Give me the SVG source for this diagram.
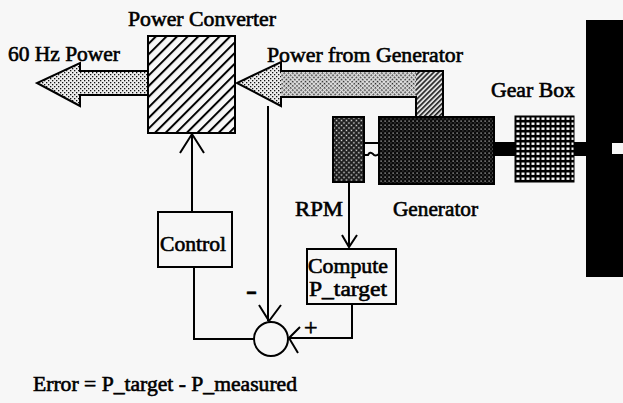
<svg xmlns="http://www.w3.org/2000/svg" width="623" height="403" viewBox="0 0 623 403">
<style>
text{font-family:"Liberation Serif","Times New Roman",serif;font-size:21px;fill:#000;stroke:#000;stroke-width:0.6}
.ln{fill:none;stroke:#000;stroke-width:2}
.box{fill:#f7f7f7;stroke:#000;stroke-width:2}
.ol{stroke:#000;stroke-width:2}
</style>
<defs>
<pattern id="stip" width="4" height="4" patternUnits="userSpaceOnUse">
<rect width="4" height="4" fill="#eeeeee"/><rect x="0" y="0" width="1.3" height="1.3" fill="#111"/><rect x="2" y="2" width="1.3" height="1.3" fill="#111"/>
</pattern>
<pattern id="stip2" width="3" height="3" patternUnits="userSpaceOnUse" patternTransform="rotate(45)">
<rect width="3" height="3" fill="#e0e0e0"/><rect x="0" y="0" width="1.5" height="1.5" fill="#222"/>
</pattern>
<pattern id="hatch" width="7.5" height="7.5" patternUnits="userSpaceOnUse" patternTransform="rotate(45)">
<rect width="7.5" height="7.5" fill="#f7f7f7"/><rect x="0" y="0" width="2" height="7.5" fill="#000"/>
</pattern>
<pattern id="hatch2" width="3.5" height="3.5" patternUnits="userSpaceOnUse" patternTransform="rotate(45)">
<rect width="3.5" height="3.5" fill="#ddd"/><rect x="0" y="0" width="1.6" height="3.5" fill="#222"/>
</pattern>
<pattern id="gen" width="4" height="4" patternUnits="userSpaceOnUse">
<rect width="4" height="4" fill="#0a0a0a"/><rect x="0.5" y="0.5" width="1.2" height="1.2" fill="#ccc"/><rect x="2.5" y="2.5" width="0.9" height="0.9" fill="#888"/>
</pattern>
<pattern id="sens" width="3.5" height="3.5" patternUnits="userSpaceOnUse" patternTransform="rotate(45)">
<rect width="3.5" height="3.5" fill="#1a1a1a"/><rect x="0.5" y="0.5" width="1.5" height="1.5" fill="#e0e0e0"/>
</pattern>
<pattern id="grid" width="5" height="5" patternUnits="userSpaceOnUse" x="515" y="116">
<rect width="5" height="5" fill="#000"/><rect x="1.5" y="1.5" width="3" height="2.4" fill="#fafafa"/>
</pattern>
</defs>
<rect width="623" height="403" fill="#f7f7f7"/>

<g id="power-converter">
<rect x="148" y="36" width="87" height="97" fill="url(#hatch)" class="ol"/>
<text x="128" y="26" textLength="148" lengthAdjust="spacingAndGlyphs">Power Converter</text>
</g>

<g id="power-60hz">
<path d="M148,71 H80 V63 L37,83 L80,106 V95 H148 Z" fill="url(#stip)" class="ol"/>
<text x="8" y="61" textLength="112" lengthAdjust="spacingAndGlyphs">60 Hz Power</text>
</g>

<g id="power-from-generator">
<rect x="281" y="71" width="162" height="26" fill="url(#stip2)"/>
<rect x="416" y="71" width="27" height="46" fill="url(#hatch2)"/>
<path d="M237,83 L281,62 V106 Z" fill="url(#stip)"/>
<path d="M416,117 V97 H281 V106 L237,83 L281,62 V71 H443 V117" fill="none" class="ol"/>
<text x="267" y="62" textLength="196" lengthAdjust="spacingAndGlyphs">Power from Generator</text>
</g>

<g id="rpm-sensor">
<rect x="333" y="117" width="31" height="65" fill="url(#sens)" class="ol"/>
<path d="M364,143 H379 M364,155 H368 Q370,151 373,154 Q375,157 379,154" class="ln" stroke-width="1.6"/>
<text x="295" y="216" textLength="48" lengthAdjust="spacingAndGlyphs">RPM</text>
</g>

<g id="generator">
<rect x="379" y="117" width="115" height="67" fill="url(#gen)" class="ol"/>
<text x="393" y="216" textLength="85" lengthAdjust="spacingAndGlyphs">Generator</text>
</g>

<g id="shafts">
<rect x="494" y="142" width="21" height="14" fill="#000"/>
<rect x="574" y="142" width="13" height="14" fill="#000"/>
</g>

<g id="gear-box">
<rect x="515" y="116" width="59" height="66" fill="url(#grid)" stroke="#000" stroke-width="1"/>
<text x="491" y="97" textLength="84" lengthAdjust="spacingAndGlyphs">Gear Box</text>
</g>

<g id="rotor">
<rect x="586" y="20" width="37" height="257" fill="#000"/>
<rect x="612" y="143" width="11" height="11" fill="#f7f7f7"/>
</g>

<g id="control">
<rect x="158" y="212" width="74" height="55" class="box"/>
<text x="160" y="251" textLength="66" lengthAdjust="spacingAndGlyphs">Control</text>
</g>

<g id="compute">
<rect x="307" y="249" width="89" height="55" class="box"/>
<text x="308" y="273" textLength="80" lengthAdjust="spacingAndGlyphs">Compute</text>
<text x="309" y="296" textLength="78" lengthAdjust="spacingAndGlyphs">P_target</text>
</g>

<g id="summing-junction">
<circle cx="271" cy="339" r="17" class="box"/>
<text x="246" y="299" textLength="11" lengthAdjust="spacingAndGlyphs" style="font-weight:bold;font-size:26px">-</text>
<text x="304" y="335" style="font-size:24px">+</text>
</g>

<g id="connectors">
<path class="ln" d="M192,212 V134 M180,153 L192,134 L204,153"/>
<path class="ln" d="M268,106 V321 M259,305 L269,321 L281,305"/>
<path class="ln" d="M349,182 V247 M342,235 L349,247 L357,235"/>
<path class="ln" d="M194,267 V339 H254"/>
<path class="ln" d="M352,304 V338 H289 M300,327 L289,338 L298,353"/>
</g>

<g id="caption">
<text x="33" y="391" textLength="264" lengthAdjust="spacingAndGlyphs">Error = P_target - P_measured</text>
</g>
</svg>
